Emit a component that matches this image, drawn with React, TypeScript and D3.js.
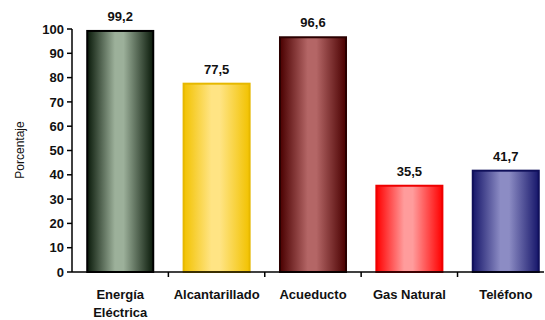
import React from "react";
import * as d3 from "d3";

const categories = ["Energía Eléctrica", "Alcantarillado", "Acueducto", "Gas Natural", "Teléfono"];
const values = [99.2, 77.5, 96.6, 35.5, 41.7];
const yTicks = [0, 10, 20, 30, 40, 50, 60, 70, 80, 90, 100];
const barEdge = ["#0a1a0a", "#f2c200", "#4a0000", "#ff0000", "#16166a"];
const barMid = ["#9cb09a", "#ffe484", "#b46666", "#ff9c9c", "#8c8cc4"];
const barStroke = ["#000000", "#e6b800", "#2a0000", "#ee0000", "#10105a"];

export default function App() {
  const W = 545, H = 320;
  const x0 = 72, x1 = 554, y0 = 272, y1 = 29;
  const x = d3.scaleBand<string>().domain(categories).range([x0, x1]).paddingInner(0.315).paddingOuter(0.158);
  const y = d3.scaleLinear().domain([0, 100]).range([y0, y1]);
  const fmt = (v: number) => v.toFixed(1).replace(".", ",");
  const step = x.step();
  const font = "'Liberation Sans', Arial, sans-serif";
  return (
    <svg width={W} height={H} style={{ position: "absolute", left: 0, top: 0, background: "#fff" }}>
      <defs>
        {categories.map((c, i) => (
          <linearGradient key={c} id={"g" + i} x1="0" x2="1" y1="0" y2="0">
            <stop offset="0" stopColor={barEdge[i]} />
            <stop offset="0.42" stopColor={barMid[i]} />
            <stop offset="0.55" stopColor={barMid[i]} />
            <stop offset="1" stopColor={barEdge[i]} />
          </linearGradient>
        ))}
      </defs>
      {categories.map((c, i) => (
        <rect key={c} x={x(c)!} y={y(values[i])} width={x.bandwidth()} height={y0 - y(values[i])}
          fill={`url(#g${i})`} stroke={barStroke[i]} strokeWidth={2} />
      ))}
      {/* y axis */}
      <line x1={x0} x2={x0} y1={y1} y2={y0} stroke="#000" strokeWidth={1.5} />
      {yTicks.map(t => (
        <g key={t}>
          <line x1={x0 - 5} x2={x0} y1={y(t)} y2={y(t)} stroke="#000" strokeWidth={1.5} />
          <text x={x0 - 8} y={y(t)} dy="0.36em" textAnchor="end" fontFamily={font} fontSize={13} fontWeight="bold" fill="#111">{t}</text>
        </g>
      ))}
      {/* x axis */}
      <line x1={x0} x2={544} y1={y0} y2={y0} stroke="#000" strokeWidth={1.5} />
      {categories.slice(1).map((c, i) => (
        <line key={c} x1={x0 + step * (i + 1)} x2={x0 + step * (i + 1)} y1={y0} y2={y0 + 5} stroke="#000" strokeWidth={1.5} />
      ))}
      {categories.map((c, i) => {
        const cx = x(c)! + x.bandwidth() / 2;
        const lines = c === "Energía Eléctrica" ? ["Energía", "Eléctrica"] : [c];
        return (
          <g key={c}>
            <text x={cx} y={y(values[i]) - 10} textAnchor="middle" fontFamily={font} fontSize={13} fontWeight="bold" fill="#111">{fmt(values[i])}</text>
            {lines.map((l, j) => (
              <text key={l} x={cx} y={299 + j * 18} textAnchor="middle" fontFamily={font} fontSize={13} fontWeight="bold" fill="#111">{l}</text>
            ))}
          </g>
        );
      })}
      <text transform="translate(24,150) rotate(-90)" textAnchor="middle" fontFamily={font} fontSize={12} fill="#111">Porcentaje</text>
    </svg>
  );
}
